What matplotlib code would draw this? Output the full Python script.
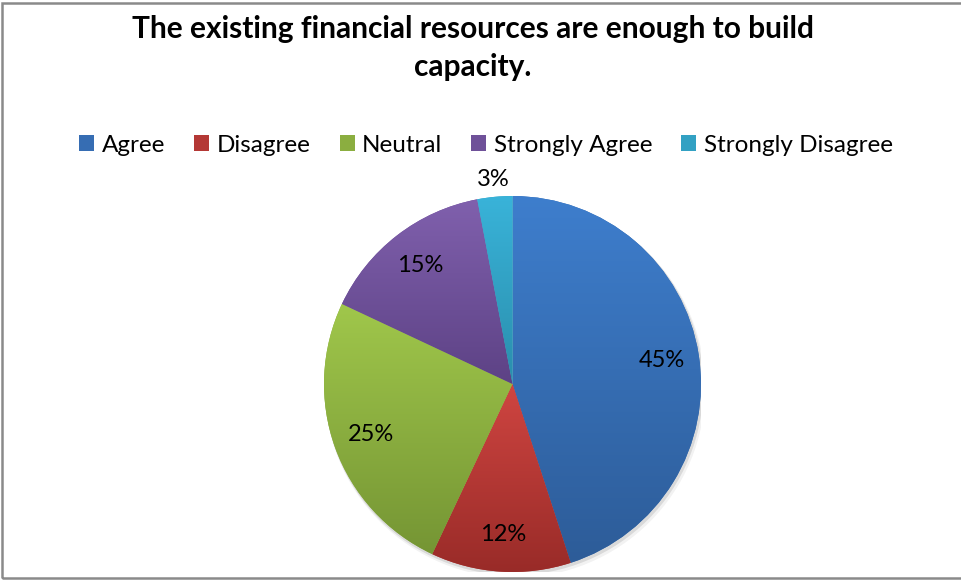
import numpy as np
import matplotlib
matplotlib.use("Agg")
import matplotlib.pyplot as plt
from matplotlib.colors import LinearSegmentedColormap, to_rgb
from matplotlib.patches import Rectangle, Circle

plt.rcParams['font.family'] = ['Lato', 'DejaVu Sans']

# survey answers
title = "The existing financial resources are enough to build\ncapacity."
categories = ['Agree', 'Disagree', 'Neutral', 'Strongly Agree', 'Strongly Disagree']
shares = [45, 12, 25, 15, 3]

# top / bottom shade of each slice
top_colors = ['#3E7ECD', '#CF4541', '#A0C74B', '#8060AD', '#39B3D9']
bottom_colors = ['#2D5C98', '#992B28', '#759534', '#5D4285', '#2A8EAC']

fig = plt.figure(figsize=(9.61, 5.8), dpi=100)
W, H = 961, 580

# outer chart frame (runs off the right edge)
fig.patches.append(Rectangle((2 / W, 2.5 / H), 1.2, 1 - 5 / H, transform=fig.transFigure,
                             fill=False, edgecolor='#8A8A8A', linewidth=1.8, zorder=0))

fig.text(473 / W, 1 - 48 / H, title, ha='center', va='center', fontsize=21.5,
         fontweight='bold', linespacing=1.42, color='black')

ax = fig.add_axes([324 / W, 8 / H, 377 / W, 376 / H])
mid_colors = [tuple((np.array(to_rgb(t)) + np.array(to_rgb(b))) / 2)
              for t, b in zip(top_colors, bottom_colors)]
wedges, _ = ax.pie(shares, colors=mid_colors, startangle=90, counterclock=False,
                   radius=1, wedgeprops=dict(linewidth=0))
ax.set_aspect('equal')
ax.axis('off')

# soft shadow behind the pie
for k, a in [(0.012, 0.10), (0.022, 0.05)]:
    ax.add_patch(Circle((k * 0.6, -k), 1.0 + k * 0.4, color='black', alpha=a,
                        linewidth=0, zorder=0))

# vertical gradient in every slice, clipped to its wedge
for w, t, b, pct in zip(wedges, top_colors, bottom_colors, shares):
    th = np.linspace(np.radians(w.theta1), np.radians(w.theta2), 200)
    xs = np.concatenate([[0], np.cos(th)])
    ys = np.concatenate([[0], np.sin(th)])
    cmap = LinearSegmentedColormap.from_list('g', [b, t])
    grad = np.linspace(0, 1, 256).reshape(-1, 1)
    im = ax.imshow(grad, cmap=cmap, origin='lower', aspect='auto',
                   extent=[xs.min(), xs.max(), ys.min(), ys.max()], zorder=2)
    im.set_clip_path(w)
    w.set_zorder(1)

    mid = np.radians((w.theta1 + w.theta2) / 2)
    r = 0.8 if pct >= 5 else 1.09
    ax.text(r * np.cos(mid), r * np.sin(mid), f"{pct}%", ha='center', va='center',
            fontsize=17, color='black', zorder=4, clip_on=False)

ax.set_xlim(-1, 1)
ax.set_ylim(-1, 1)

fig.legend(wedges, categories, loc='center', bbox_to_anchor=(486 / W, 1 - 145 / H),
           ncol=5, frameon=False, fontsize=17.5, handlelength=0.62, handleheight=0.62,
           handletextpad=0.3, columnspacing=1.2, borderaxespad=0)

fig.savefig('out.png', dpi=100, facecolor='white')
